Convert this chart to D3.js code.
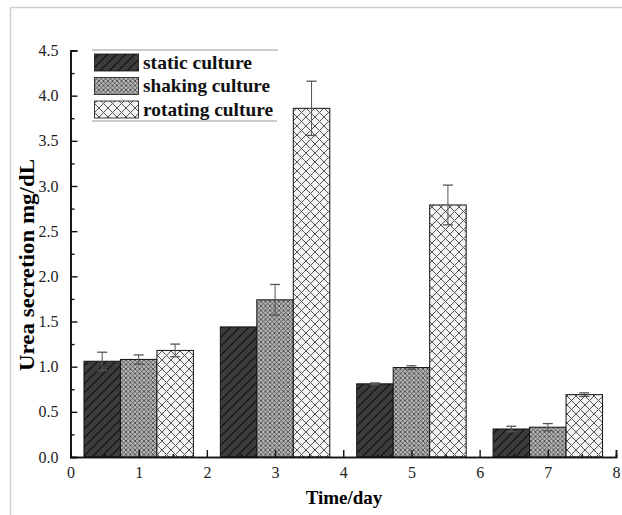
<!DOCTYPE html>
<html>
<head>
<meta charset="utf-8">
<script src="https://cdn.jsdelivr.net/npm/d3@7/dist/d3.min.js"></script>
<style>
  html, body { margin: 0; padding: 0; background: #fff; }
  svg { display: block; }
  text { font-family: 'Liberation Serif', 'Times New Roman', serif; }
</style>
</head>
<body>
<svg id="chart" width="622" height="515"></svg>
<script>
// Urea secretion per culture mode over days
const days = [1, 3, 5, 7];
const seriesNames = ["static culture", "shaking culture", "rotating culture"];
const staticVals   = [1.06, 1.44, 0.81, 0.31];
const staticErr    = [0.10, 0.00, 0.01, 0.03];
const shakingVals  = [1.08, 1.74, 0.99, 0.33];
const shakingErr   = [0.05, 0.17, 0.02, 0.04];
const rotatingVals = [1.18, 3.86, 2.79, 0.69];
const rotatingErr  = [0.07, 0.30, 0.22, 0.02];
const xTicks = [0, 1, 2, 3, 4, 5, 6, 7, 8];
const yTicks = [0.0, 0.5, 1.0, 1.5, 2.0, 2.5, 3.0, 3.5, 4.0, 4.5];

const series = [
  { name: seriesNames[0], values: staticVals,   err: staticErr,   pat: "p-static" },
  { name: seriesNames[1], values: shakingVals,  err: shakingErr,  pat: "p-shaking" },
  { name: seriesNames[2], values: rotatingVals, err: rotatingErr, pat: "p-rotating" }
];

const svg = d3.select("#chart");
const serif = "'Liberation Serif', 'Times New Roman', serif";

// faint frame around the figure
svg.append("line").attr("x1", 10).attr("x2", 622).attr("y1", 7.5).attr("y2", 7.5)
  .attr("stroke", "#cfcfcf").attr("stroke-width", 1.5);
svg.append("line").attr("x1", 10.5).attr("x2", 10.5).attr("y1", 7).attr("y2", 515)
  .attr("stroke", "#cfcfcf").attr("stroke-width", 1.5);

const x = d3.scaleLinear().domain([0, 8]).range([70.5, 616]);
const y = d3.scaleLinear().domain([0, 4.5]).range([457, 50.5]);
const bw = 0.535; // bar width in day units

// hatch fills
const defs = svg.append("defs");
const pS = defs.append("pattern").attr("id", "p-static").attr("patternUnits", "userSpaceOnUse")
  .attr("width", 9).attr("height", 9);
pS.append("rect").attr("width", 9).attr("height", 9).attr("fill", "#3c3c3c");
pS.append("path").attr("d", "M0,9L9,0M-2,2L2,-2M7,11L11,7").attr("stroke", "#0d0d0d").attr("stroke-width", 1.1);

const pK = defs.append("pattern").attr("id", "p-shaking").attr("patternUnits", "userSpaceOnUse")
  .attr("width", 4.5).attr("height", 4.5);
pK.append("rect").attr("width", 4.5).attr("height", 4.5).attr("fill", "#b8b8b8");
pK.append("path").attr("d", "M0,0L4.5,4.5M4.5,0L0,4.5").attr("stroke", "#4a4a4a").attr("stroke-width", 0.9);

const pR = defs.append("pattern").attr("id", "p-rotating").attr("patternUnits", "userSpaceOnUse")
  .attr("width", 9).attr("height", 9);
pR.append("rect").attr("width", 9).attr("height", 9).attr("fill", "#f3f3f3");
pR.append("path").attr("d", "M0,0L9,9M9,0L0,9").attr("stroke", "#555").attr("stroke-width", 1);

// bars
series.forEach((s, si) => {
  const g = svg.append("g");
  g.selectAll("rect").data(days).join("rect")
    .attr("x", (d) => x(d + (si - 1.5) * bw))
    .attr("width", x(bw) - x(0))
    .attr("y", (d, i) => y(s.values[i]))
    .attr("height", (d, i) => y(0) - y(s.values[i]))
    .attr("fill", `url(#${s.pat})`)
    .attr("stroke", "#111").attr("stroke-width", 1);
});

// error bars
series.forEach((s, si) => {
  const g = svg.append("g").attr("stroke", "#555");
  days.forEach((d, i) => {
    if (s.err[i] <= 0) return;
    const cx = x(d + (si - 1) * bw);
    const hi = y(s.values[i] + s.err[i]);
    const lo = y(s.values[i] - s.err[i]);
    g.append("line").attr("x1", cx).attr("x2", cx).attr("y1", hi).attr("y2", lo).attr("stroke-width", 1);
    g.append("line").attr("x1", cx - 5).attr("x2", cx + 5).attr("y1", hi).attr("y2", hi).attr("stroke-width", 1.3);
    g.append("line").attr("x1", cx - 5).attr("x2", cx + 5).attr("y1", lo).attr("y2", lo).attr("stroke-width", 1.3);
  });
});

// axes with inward ticks
const axX = svg.append("g").attr("transform", `translate(0,${y(0)})`);
axX.call(d3.axisBottom(x).tickValues(d3.range(0.5, 8, 1)).tickSize(-3).tickFormat(""));
const axXM = svg.append("g").attr("transform", `translate(0,${y(0)})`)
  .call(d3.axisBottom(x).tickValues(xTicks).tickSize(-7).tickPadding(10).tickFormat(d3.format("d")));
[axX, axXM].forEach(a => {
  a.select(".domain").attr("stroke", "#111").attr("stroke-width", 1.6);
  a.selectAll("line").attr("stroke", "#111").attr("stroke-width", 1.4);
});
axXM.attr("font-family", serif);
axXM.selectAll("text").style("font-family", serif).attr("font-size", 16).attr("fill", "#222");

const axY = svg.append("g").attr("transform", `translate(${x(0)},0)`);
axY.call(d3.axisLeft(y).tickValues(d3.range(0.25, 4.5, 0.5)).tickSize(-4).tickFormat(""));
const axYM = svg.append("g").attr("transform", `translate(${x(0)},0)`)
  .call(d3.axisLeft(y).tickValues(yTicks).tickSize(-7).tickPadding(12).tickFormat(d3.format(".1f")));
[axY, axYM].forEach(a => {
  a.select(".domain").attr("stroke", "#111").attr("stroke-width", 1.6);
  a.selectAll("line").attr("stroke", "#111").attr("stroke-width", 1.4);
});
axYM.attr("font-family", serif);
axYM.selectAll("text").style("font-family", serif).attr("font-size", 16).attr("fill", "#222");

// axis titles
svg.append("text").attr("x", 344).attr("y", 504).attr("text-anchor", "middle")
  .style("font-family", serif).attr("font-weight", "bold").attr("font-size", 19)
  .text("Time/day");
svg.append("text").attr("transform", "translate(34,265) rotate(-90)").attr("text-anchor", "middle")
  .style("font-family", serif).attr("font-weight", "bold").attr("font-size", 21)
  .attr("textLength", 212).attr("lengthAdjust", "spacingAndGlyphs")
  .text("Urea secretion mg/dL");

// legend
const lg = svg.append("g");
lg.append("line").attr("x1", 92).attr("x2", 278).attr("y1", 50).attr("y2", 50).attr("stroke", "#999");
lg.append("line").attr("x1", 92).attr("x2", 277).attr("y1", 121).attr("y2", 121).attr("stroke", "#999");
const rowsY = [54, 77.5, 101];
const labelLen = [109, 127, 130];
series.forEach((s, i) => {
  lg.append("rect").attr("x", 94.5).attr("y", rowsY[i]).attr("width", 44).attr("height", 17)
    .attr("fill", `url(#${s.pat})`).attr("stroke", "#111").attr("stroke-width", 0.8);
  lg.append("text").attr("x", 143).attr("y", rowsY[i] + 14.5)
    .style("font-family", serif).attr("font-weight", "bold").attr("font-size", 19)
    .attr("textLength", labelLen[i]).attr("lengthAdjust", "spacingAndGlyphs")
    .attr("fill", "#111").text(s.name);
});
</script>
</body>
</html>
